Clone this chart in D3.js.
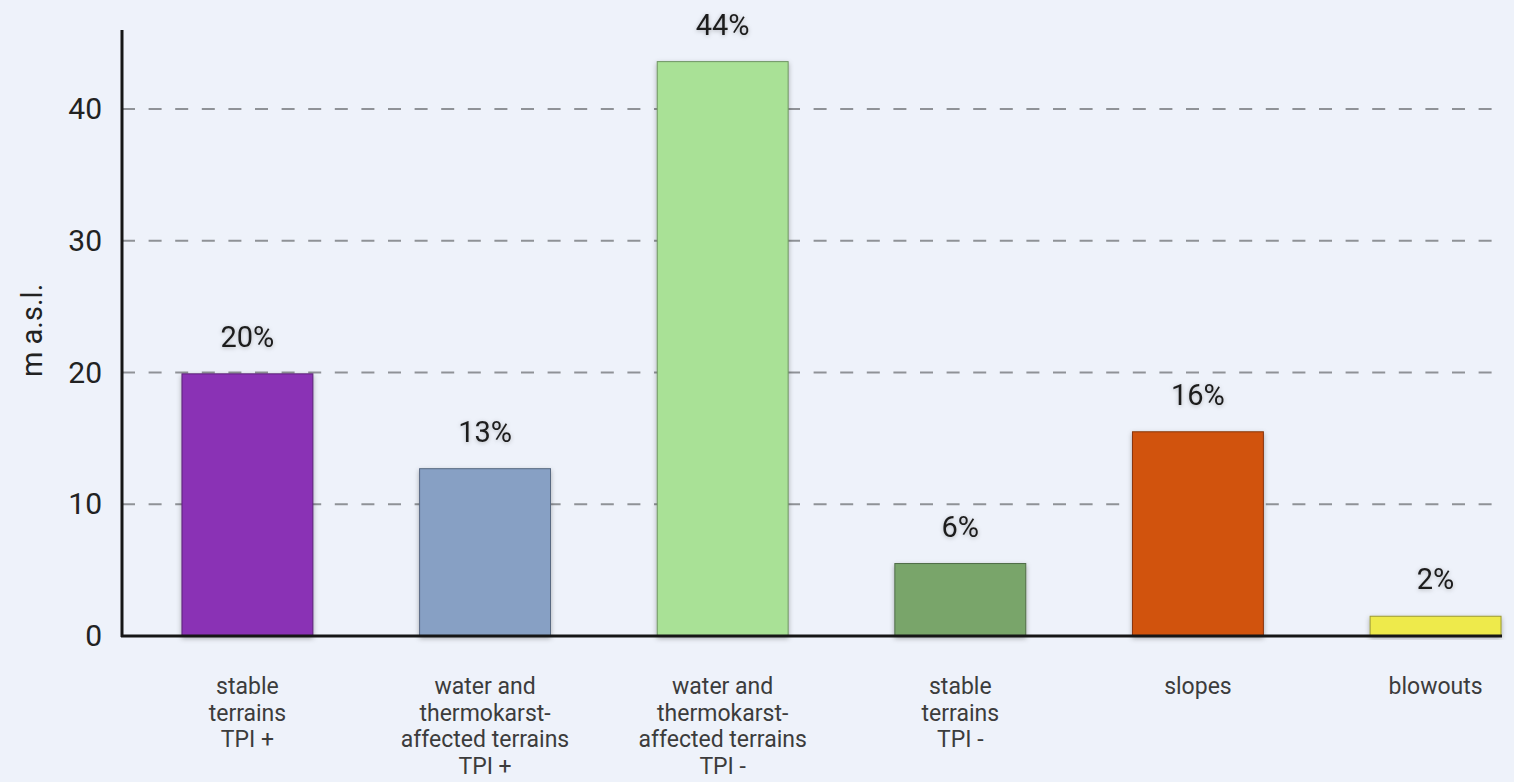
<!DOCTYPE html>
<html>
<head>
<meta charset="utf-8">
<script src="https://cdn.jsdelivr.net/npm/d3@7"></script>
<style>
  html, body { margin: 0; padding: 0; background: #eef2fa; }
  svg { display: block; }
  text { font-family: Roboto, "Noto Sans", sans-serif; }
</style>
</head>
<body>
<svg id="chart" width="1514" height="782"></svg>
<script>
// Terrain classes (multi-line category labels)
const categories = [
  ["stable", "terrains", "TPI +"],
  ["water and", "thermokarst-", "affected terrains", "TPI +"],
  ["water and", "thermokarst-", "affected terrains", "TPI -"],
  ["stable", "terrains", "TPI -"],
  ["slopes"],
  ["blowouts"]
];
// Mean elevation per class (m a.s.l.); percentage label is the rounded value
const values = [19.9, 12.7, 43.6, 5.5, 15.5, 1.5];
const barColors = ["#8a33b5", "#87a0c4", "#a9e196", "#79a56b", "#d1520e", "#eeea4c"];
const yTicks = [0, 10, 20, 30, 40];
const yTitle = "m a.s.l.";

const svg = d3.select("#chart");
const axisX = 122, baseY = 636, topY = 30, rightX = 1502;

const y = d3.scaleLinear().domain([0, 46]).range([baseY, topY]);
const x = d3.scaleBand()
  .domain(d3.range(values.length))
  .range([128.5, 1554.5])
  .paddingInner(0.449)
  .paddingOuter(0.225);

// drop shadows for bars and labels
const defs = svg.append("defs");
const sh = defs.append("filter").attr("id", "shadow")
  .attr("x", "-20%").attr("y", "-20%").attr("width", "140%").attr("height", "140%");
sh.append("feDropShadow").attr("dx", 0).attr("dy", 2).attr("stdDeviation", 2.5)
  .attr("flood-color", "#000").attr("flood-opacity", 0.3);
const tsh = defs.append("filter").attr("id", "tshadow")
  .attr("x", "-20%").attr("y", "-30%").attr("width", "140%").attr("height", "160%");
tsh.append("feDropShadow").attr("dx", 0).attr("dy", 1).attr("stdDeviation", 2)
  .attr("flood-color", "#000").attr("flood-opacity", 0.25);

// dashed gridlines
svg.append("g")
  .selectAll("line")
  .data(yTicks.filter(t => t > 0))
  .join("line")
  .attr("x1", axisX).attr("x2", rightX - 2)
  .attr("y1", d => y(d)).attr("y2", d => y(d))
  .attr("stroke", "#8f9297")
  .attr("stroke-width", 2)
  .attr("stroke-dasharray", "13,13.6");

// bars
svg.append("g")
  .selectAll("rect")
  .data(values)
  .join("rect")
  .attr("x", (d, i) => x(i))
  .attr("width", x.bandwidth())
  .attr("y", d => y(d))
  .attr("height", d => baseY - y(d))
  .attr("fill", (d, i) => barColors[i])
  .attr("stroke", (d, i) => d3.color(barColors[i]).darker(1.2))
  .attr("stroke-width", 1)
  .attr("filter", "url(#shadow)");

// y axis ticks
const yAxis = d3.axisLeft(y).tickValues(yTicks).tickSize(0).tickPadding(20);
const gy = svg.append("g").attr("transform", `translate(${axisX},0)`).call(yAxis);
gy.select(".domain").remove();
gy.selectAll("text")
  .attr("font-size", 30)
  .attr("fill", "#222")
  .attr("font-family", "Roboto, sans-serif");

// axis lines
svg.append("line")
  .attr("x1", axisX).attr("x2", axisX)
  .attr("y1", topY).attr("y2", baseY + 1)
  .attr("stroke", "#161616").attr("stroke-width", 3);
svg.append("line")
  .attr("x1", axisX - 1).attr("x2", rightX)
  .attr("y1", baseY).attr("y2", baseY)
  .attr("stroke", "#161616").attr("stroke-width", 3);

// y title
svg.append("text")
  .attr("transform", `translate(42,${y(23.2)}) rotate(-90)`)
  .attr("text-anchor", "middle")
  .attr("font-size", 29)
  .attr("fill", "#222")
  .text(yTitle);

// value labels
svg.append("g")
  .selectAll("text")
  .data(values)
  .join("text")
  .attr("x", (d, i) => x(i) + x.bandwidth() / 2)
  .attr("y", d => y(d) - 27)
  .attr("text-anchor", "middle")
  .attr("font-size", 29)
  .attr("fill", "#1e1e1e")
  .attr("filter", "url(#tshadow)")
  .text(d => Math.round(d) + "%");

// category labels
const cat = svg.append("g")
  .selectAll("text")
  .data(categories)
  .join("text")
  .attr("x", (d, i) => x(i) + x.bandwidth() / 2)
  .attr("y", 694)
  .attr("text-anchor", "middle")
  .attr("font-size", 23)
  .attr("fill", "#3c3c3c");
cat.selectAll("tspan")
  .data(d => d)
  .join("tspan")
  .attr("x", function () { return d3.select(this.parentNode).attr("x"); })
  .attr("dy", (d, j) => j === 0 ? 0 : 26.5)
  .text(d => d);
</script>
</body>
</html>
